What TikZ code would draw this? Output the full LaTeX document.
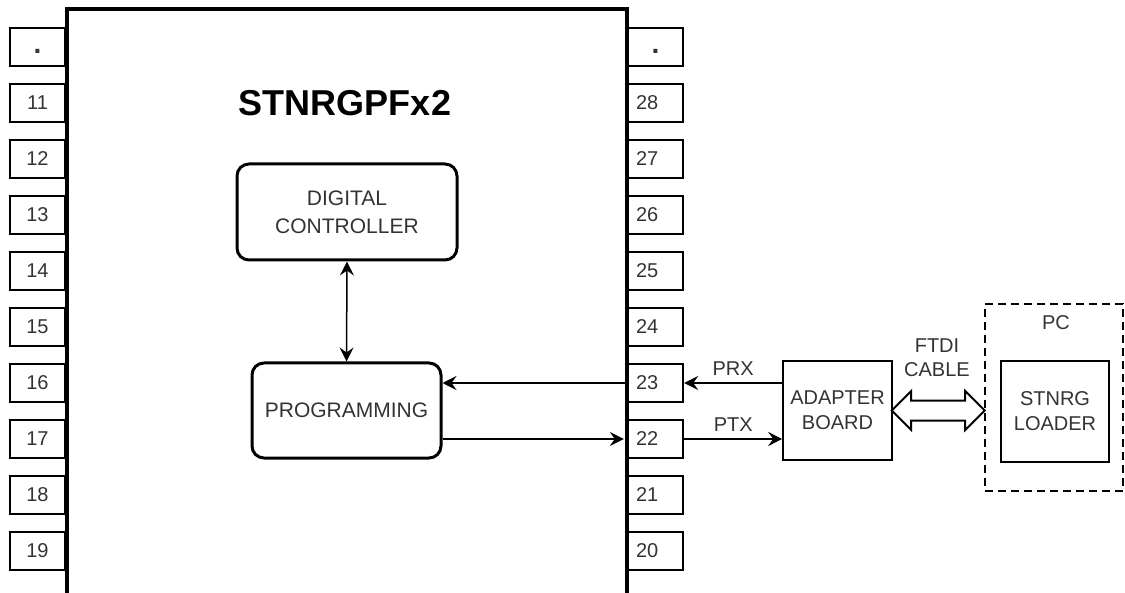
\documentclass[tikz,border=0pt]{standalone}
\usepackage{fontspec}
\setmainfont{Liberation Sans}
\usetikzlibrary{arrows.meta,shapes.arrows,calc}

\begin{document}
\begin{tikzpicture}[x=0.5pt,y=-0.5pt]
        % Define styles
        \tikzset{
            chip/.style={line width=2pt},
            pinbox/.style={rectangle, draw, line width=0.9pt, minimum width=27.5pt, minimum height=19pt, inner sep=0pt, text=black!80, font=\fontsize{10}{12}\selectfont},
            pinboxright/.style={pinbox, line width=1.2pt, text width=19.5pt, inner sep=4pt, align=left},
            block/.style={rectangle, draw, rounded corners=6pt, line width=1.5pt, minimum width=110pt, minimum height=48pt, align=center, text=black!80, font=\fontsize{10.5}{14}\selectfont},
            plainbox/.style={rectangle, draw, line width=0.8pt, minimum width=54.5pt, minimum height=49.5pt, align=center, text=black!80, font=\fontsize{10}{12.5}\selectfont},
            pcbox/.style={rectangle, draw, dash pattern=on 4pt off 2.5pt, line width=1.4pt, minimum width=69pt, minimum height=93.5pt},
            textlabel/.style={text=black!80, font=\fontsize{10}{12}\selectfont},
            cable/.style={double arrow, draw, line width=1pt, minimum height=46.5pt, inner xsep=0pt, inner ysep=4.5pt, double arrow head extend=4.75pt},
            arrow/.style={->, >={Stealth[length=7pt,width=7pt,inset=2.5pt]}, line width=0.75pt}
        }
        \newcommand{\pindot}{\vphantom{1}{\fontsize{14}{14}\selectfont\bfseries .}}
        \useasboundingbox (0,0) rectangle (1125,593);

        % Chip body
        \draw[chip] (67,593) -- (67,9) -- (627,9) -- (627,593);
        \node[font=\fontsize{18}{20}\selectfont\bfseries] (chip_title) at (345,103) {STNRGPFx2};

        % Left pins
        \node[pinbox] (pin_left_0) at (37.5,47) {\pindot};
        \node[pinbox] (pin_left_11) at (37.5,103) {11};
        \node[pinbox] (pin_left_12) at (37.5,159) {12};
        \node[pinbox] (pin_left_13) at (37.5,215) {13};
        \node[pinbox] (pin_left_14) at (37.5,271) {14};
        \node[pinbox] (pin_left_15) at (37.5,327) {15};
        \node[pinbox] (pin_left_16) at (37.5,383) {16};
        \node[pinbox] (pin_left_17) at (37.5,439) {17};
        \node[pinbox] (pin_left_18) at (37.5,495) {18};
        \node[pinbox] (pin_left_19) at (37.5,551) {19};

        % Right pins
        \node[pinbox, line width=1.2pt] (pin_right_0) at (655.5,47) {\pindot};
        \node[pinboxright] (pin_right_28) at (655.5,103) {28};
        \node[pinboxright] (pin_right_27) at (655.5,159) {27};
        \node[pinboxright] (pin_right_26) at (655.5,215) {26};
        \node[pinboxright] (pin_right_25) at (655.5,271) {25};
        \node[pinboxright] (pin_right_24) at (655.5,327) {24};
        \node[pinboxright] (pin_right_23) at (655.5,383) {23};
        \node[pinboxright] (pin_right_22) at (655.5,439) {22};
        \node[pinboxright] (pin_right_21) at (655.5,495) {21};
        \node[pinboxright] (pin_right_20) at (655.5,551) {20};

        % Blocks
        \node[block] (controller_node) at (347,212) {DIGITAL\\CONTROLLER};
        \node[block, minimum width=94.5pt, minimum height=47.5pt] (programming_node) at (346.5,410.5) {PROGRAMMING};
        \node[plainbox] (adapter_node) at (837.5,410.5) {ADAPTER\\BOARD};
        \node[pcbox] (pc_node) at (1054,397.5) {};
        \node[textlabel] (pc_label) at (1056,323) {PC};
        \node[plainbox, line width=1pt, minimum width=54pt, minimum height=50.5pt] (loader_node) at (1055,411.5) {STNRG\\LOADER};
        \node[textlabel, align=center] (cable_label) at (937,358) {FTDI\\CABLE};
        \node[cable] (cable_arrow) at ($(adapter_node.east)!0.5!(adapter_node.east -| pc_node.west)$) {};

        % Arrows
        \draw[arrow, <->] (programming_node.north) -- (controller_node.south);
        \draw[arrow] (pin_right_23.west) -- (programming_node.east |- pin_right_23.west);
        \draw[arrow, shorten >=1.5pt] (programming_node.east |- pin_right_22.west) -- (pin_right_22.west);
        \draw[arrow] (adapter_node.west |- pin_right_23.east) -- (pin_right_23.east) node[midway, above, textlabel] {PRX};
        \draw[arrow] (pin_right_22.east) -- (adapter_node.west |- pin_right_22.east) node[midway, above, textlabel] {PTX};
    \end{tikzpicture}
\end{document}
